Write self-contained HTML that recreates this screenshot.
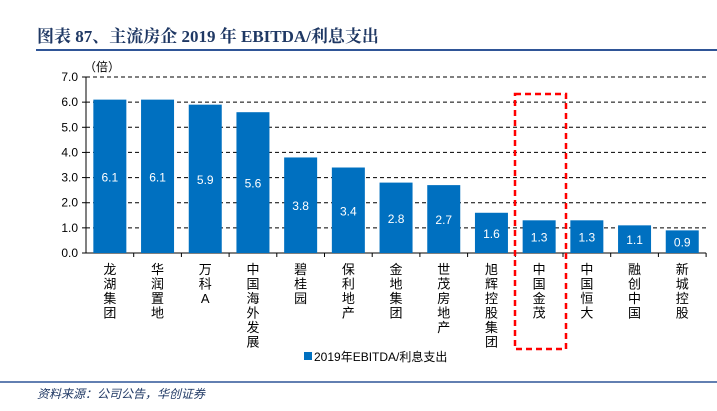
<!DOCTYPE html>
<html><head><meta charset="utf-8"><style>
body{margin:0;background:#fff;width:717px;height:406px;overflow:hidden;font-family:"Liberation Sans","Noto Sans CJK SC",sans-serif}
</style></head><body>
<svg id="c" width="717" height="406" xmlns="http://www.w3.org/2000/svg">
<text x="37" y="42" font-family="Liberation Serif,'Noto Serif CJK SC',serif" font-weight="bold" font-size="17" fill="#1F3864">图表 87、主流房企 2019 年 EBITDA/利息支出</text>
<line x1="36" y1="50" x2="717" y2="50" stroke="#2F5597" stroke-width="2"/>
<text x="84" y="71" font-size="12" fill="#000">（倍）</text>
<g id="plot"></g>
<rect x="515" y="94" width="51" height="255" fill="none" stroke="#FF0000" stroke-width="2.5" stroke-dasharray="6,4"/>
<rect x="304" y="352" width="8" height="8" fill="#0070C0"/>
<text x="314" y="361" font-size="12" fill="#000">2019年EBITDA/利息支出</text>
<line x1="0" y1="382" x2="717" y2="382" stroke="#2F5597" stroke-width="1.5"/>
<text x="37" y="398" font-size="12" font-style="italic" fill="#1F3864">资料来源：公司公告，华创证券</text>
</svg>
<script>
const categories=["龙湖集团","华润置地","万科A","中国海外发展","碧桂园","保利地产","金地集团","世茂房地产","旭辉控股集团","中国金茂","中国恒大","融创中国","新城控股"];
const values=[6.1,6.1,5.9,5.6,3.8,3.4,2.8,2.7,1.6,1.3,1.3,1.1,0.9];
const yTicks=[0,1,2,3,4,5,6,7];
const NS="http://www.w3.org/2000/svg";
const g=document.getElementById('plot');
const x0=86,band=47.7,y0=253,yTop=77,yMax=7;
const y=v=>y0-(v/yMax)*(y0-yTop);
const xc=i=>x0+band*(i+0.5);
function mk(t,a){const e=document.createElementNS(NS,t);for(const k in a)e.setAttribute(k,a[k]);g.appendChild(e);return e;}
const xEnd=x0+band*categories.length;
yTicks.forEach(t=>{
 let l=mk('line',{x1:x0,x2:xEnd,y1:y(t),y2:y(t),stroke:'#000','stroke-dasharray':t?'4,3':'',"stroke-width":1});
 
 
 let k=mk('line',{x1:x0-4,x2:x0,y1:y(t),y2:y(t),stroke:'#000'});
 
 
 let tx=mk('text',{x:x0-8,y:y(t)+4,'text-anchor':'end','font-size':12});
 tx.textContent=t.toFixed(1);
 
 
});
let ax=mk('line',{x1:x0,x2:x0,y1:yTop,y2:y0,stroke:'#000'});


categories.forEach((c,i)=>{
 const v=values[i],bw=33;
 let r=mk('rect',{x:xc(i)-bw/2,y:y(v),width:bw,height:y0-y(v),fill:'#0070C0'});
 
 
 let vl=mk('text',{x:xc(i),y:(y(v)+y0)/2+5,'text-anchor':'middle','font-size':12,fill:'#fff'});
 vl.textContent=v.toFixed(1);
 
 
 let tk=mk('line',{x1:x0+band*(i+1),x2:x0+band*(i+1),y1:y0,y2:y0+4,stroke:'#000'});
 
 
 let cl=mk('text',{'font-size':13,'text-anchor':'middle'});
 
 
 [...c].forEach((ch,j)=>{
  const s=document.createElementNS(NS,'tspan');
  s.setAttribute('x',xc(i));
  s.setAttribute('y',274+j*14.5);
  s.textContent=ch;
  cl.appendChild(s);
 });
});
</script>
</body></html>
